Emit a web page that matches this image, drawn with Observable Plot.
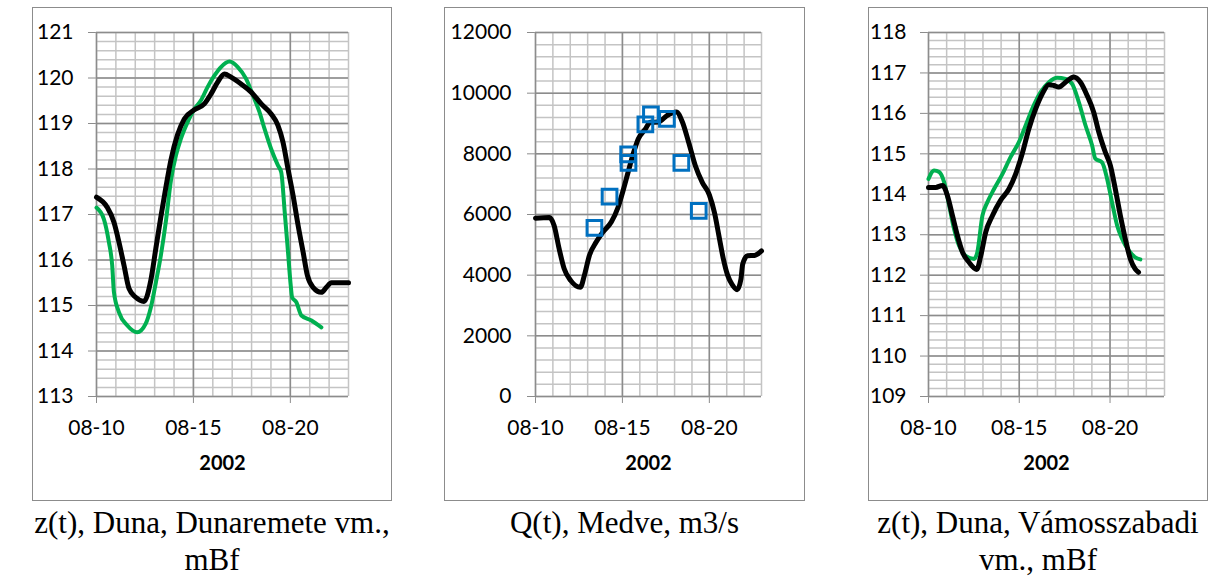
<!DOCTYPE html>
<html>
<head>
<meta charset="utf-8">
<script src="https://cdn.jsdelivr.net/npm/d3@7"></script>
<script src="https://cdn.jsdelivr.net/npm/@observablehq/plot@0.6"></script>
<style>
  html, body { margin: 0; padding: 0; background: #fff; }
  #page { position: relative; width: 1217px; height: 577px; overflow: hidden; }
  .frame { position: absolute; top: 7px; height: 494px; box-sizing: border-box; border: 1.5px solid #8c8c8c; pointer-events: none; }
  .chart { position: absolute; top: 7px; }
  .chart svg text { fill: #000; }
  .caption { position: absolute; top: 504px; text-align: center; white-space: nowrap;
             font-family: "Liberation Serif", "Times New Roman", serif; font-size: 31px; line-height: 37px; color: #000; }
</style>
</head>
<body>
<div id="page"></div>
<script>
// ---- Dunaremete water level, z(t) [mBf] ----
const dunaremeteSimDays = [10.0, 10.55, 10.9, 11.16, 11.42, 11.68, 12.02, 12.45, 12.8, 13.06, 13.32, 13.58, 13.84, 14.18, 14.53, 15.05, 15.56, 15.91, 16.25, 16.6, 16.94, 17.46, 17.98, 18.5, 19.01, 19.36, 19.62, 19.88, 20.14, 20.4, 20.66, 20.88, 21.17, 21.6, 21.86, 22.12, 23.0];
const dunaremeteSim = [117.38, 117.16, 116.83, 116.39, 115.88, 115.37, 115.18, 115.09, 115.55, 116.25, 116.95, 117.6, 118.2, 118.75, 119.1, 119.3, 119.43, 119.65, 119.91, 120.09, 120.02, 119.87, 119.69, 119.43, 119.21, 118.96, 118.59, 118.0, 117.42, 116.76, 116.17, 115.66, 115.4, 115.29, 115.4, 115.5, 115.5];
const dunaremeteObsDays = [10.0, 10.38, 10.64, 10.81, 10.9, 11.16, 11.59, 12.1, 12.54, 12.8, 13.06, 13.32, 13.58, 13.84, 14.1, 14.35, 14.7, 15.05, 15.39, 15.73, 16.08, 16.42, 16.86, 17.29, 17.72, 18.07, 18.41, 18.67, 19.01, 19.36, 19.53, 19.71, 19.88, 20.02, 20.09, 20.31, 20.57, 21.09, 21.6];
const dunaremeteObs = [117.15, 116.9, 116.39, 115.88, 115.29, 114.85, 114.56, 114.41, 114.6, 114.95, 115.5, 116.1, 116.85, 117.75, 118.3, 118.66, 119.03, 119.32, 119.51, 119.8, 120.05, 120.24, 120.36, 120.24, 119.98, 119.62, 119.25, 118.88, 118.44, 118.08, 117.93, 117.05, 116.17, 115.44, 115.18, 115.07, 114.78, 114.67, 114.52];

// ---- Medve discharge, Q(t) [m3/s] ----
const medveSimDays = [10.0, 10.8, 11.07, 11.36, 11.65, 12.03, 12.58, 12.81, 13.1, 13.49, 13.88, 14.36, 14.75, 15.04, 15.33, 15.62, 15.91, 16.3, 16.6, 17.07, 17.56, 18.1, 18.45, 18.8, 19.2, 19.6, 20.0, 20.3, 20.55, 20.8, 21.05, 21.3, 21.6, 21.82, 21.92, 22.2, 22.6, 23.0];
const medveSim = [5880, 5900, 5640, 4870, 4210, 3820, 3600, 3990, 4650, 5090, 5420, 5750, 6240, 6790, 7400, 8000, 8490, 8800, 9040, 9050, 9260, 9380, 9050, 8400, 7600, 7050, 6650, 6050, 5300, 4550, 4000, 3700, 3520, 3880, 4370, 4640, 4650, 4800];
const medveMeasDays = [13.39, 14.26, 15.33, 15.35, 16.32, 16.64, 17.56, 18.39, 19.39];
const medveMeas = [5560, 6590, 7980, 7700, 8970, 9300, 9150, 7700, 6120];

// ---- Vámosszabadi water level, z(t) [mBf] ----
const vamosSimDays = [10.0, 10.4, 10.77, 11.04, 11.32, 11.59, 11.87, 12.23, 12.66, 12.88, 13.15, 13.52, 13.97, 14.43, 14.8, 15.16, 15.53, 15.9, 16.26, 16.63, 16.9, 17.18, 17.55, 18.0, 18.37, 18.74, 19.1, 19.38, 19.74, 20.02, 20.29, 20.57, 20.84, 21.12, 21.39, 21.57];
const vamosSim = [114.17, 114.17, 114.22, 113.97, 113.47, 112.98, 112.57, 112.32, 112.14, 112.48, 113.06, 113.47, 113.85, 114.13, 114.5, 115.0, 115.62, 116.11, 116.48, 116.71, 116.69, 116.65, 116.77, 116.9, 116.77, 116.44, 116.03, 115.54, 115.04, 114.71, 114.13, 113.47, 112.9, 112.4, 112.15, 112.07];
const vamosObsDays = [10.0, 10.31, 10.59, 10.86, 11.14, 11.41, 11.68, 12.05, 12.51, 12.69, 12.97, 13.24, 13.61, 14.07, 14.52, 14.98, 15.35, 15.71, 16.17, 16.63, 17.09, 17.55, 17.91, 18.28, 18.65, 19.01, 19.19, 19.56, 19.84, 20.11, 20.39, 20.66, 21.03, 21.39, 21.67];
const vamosObs = [114.38, 114.59, 114.55, 114.3, 113.72, 113.14, 112.73, 112.48, 112.4, 112.57, 113.47, 113.8, 114.13, 114.5, 114.92, 115.29, 115.7, 116.11, 116.52, 116.77, 116.88, 116.85, 116.73, 116.28, 115.7, 115.21, 114.88, 114.79, 114.38, 113.8, 113.23, 112.9, 112.61, 112.44, 112.39];

// ---- axes ----
const xDomainDays = [10, 23];
const xLabelDays = [10, 15, 20];
const yearLabel = "2002";
const dunaremeteTicks = [113, 114, 115, 116, 117, 118, 119, 120, 121];
const medveTicks = [0, 2000, 4000, 6000, 8000, 10000, 12000];
const vamosTicks = [109, 110, 111, 112, 113, 114, 115, 116, 117, 118];

const captions = [
  ["z(t), Duna, Dunaremete vm.,", "mBf"],
  ["Q(t), Medve, m3/s"],
  ["z(t), Duna, Vámosszabadi", "vm., mBf"]
];

const GREEN = "#00b050", BLACK = "#000000", BLUE = "#0070c0";
const MINOR = "#c4c4c4", MAJOR = "#8c8c8c";

// day of August 2002 (fractional) -> UTC date
const aug = d => new Date(Date.UTC(2002, 7, 1) + (d - 1) * 864e5);
const toRows = (days, vals) => days.map((d, i) => ({t: aug(d), v: vals[i]}));

function panel({width, marginLeft, marginRight, ticks, minorPerMajor, tickPadding, series, points}) {
  const xDays = d3.range(xDomainDays[0], xDomainDays[1] + 1).map(aug);
  const xMajor = xLabelDays.map(aug);
  const step = (ticks[1] - ticks[0]) / minorPerMajor;
  const yMinor = d3.range((ticks.length - 1) * minorPerMajor + 1).map(i => ticks[0] + i * step);

  const marks = [
    Plot.ruleY(yMinor, {stroke: MINOR, strokeWidth: 1.5}),
    Plot.ruleX(xDays, {stroke: MINOR, strokeWidth: 1.5}),
    Plot.ruleY(ticks, {stroke: MAJOR, strokeWidth: 1.5}),
    Plot.ruleX(xMajor, {stroke: MAJOR, strokeWidth: 1.5})
  ];
  for (const s of series) {
    marks.push(Plot.line(s.rows, {x: "t", y: "v", stroke: s.color, strokeWidth: s.width,
      curve: "monotone-x", strokeLinejoin: "round", strokeLinecap: "round"}));
  }
  if (points) {
    marks.push(Plot.dot(points, {x: "t", y: "v", symbol: "square", r: 8.3,
      fill: "none", stroke: BLUE, strokeWidth: 3}));
  }
  marks.push(Plot.text([yearLabel], {text: d => d, frameAnchor: "bottom", dy: 67,
    lineAnchor: "middle", fontWeight: "bold", fontSize: 20}));

  return Plot.plot({
    width, height: 494,
    marginLeft, marginRight,
    marginTop: 25, marginBottom: 105,
    style: {fontFamily: "Lato, 'Open Sans', sans-serif", fontSize: "21px", color: MAJOR,
            background: "transparent", overflow: "visible"},
    x: {type: "utc", domain: xDomainDays.map(aug), ticks: xMajor, tickFormat: d3.utcFormat("%m-%d"),
        tickSize: 7, tickPadding: 17, label: null},
    y: {domain: [ticks[0], ticks[ticks.length - 1]], ticks, tickFormat: d => String(d),
        tickSize: 8, tickPadding, label: null},
    marks
  });
}

const panels = [
  {left: 32, width: 360, marginLeft: 64, marginRight: 44, ticks: dunaremeteTicks, minorPerMajor: 5, tickPadding: 15,
   series: [{rows: toRows(dunaremeteObsDays, dunaremeteObs), color: GREEN, width: 4},
            {rows: toRows(dunaremeteSimDays, dunaremeteSim), color: BLACK, width: 5}]},
  {left: 444, width: 361, marginLeft: 91, marginRight: 44, ticks: medveTicks, minorPerMajor: 5, tickPadding: 16,
   series: [{rows: toRows(medveSimDays, medveSim), color: BLACK, width: 5}],
   points: toRows(medveMeasDays, medveMeas)},
  {left: 868, width: 340, marginLeft: 60, marginRight: 44, ticks: vamosTicks, minorPerMajor: 5, tickPadding: 14,
   series: [{rows: toRows(vamosObsDays, vamosObs), color: GREEN, width: 4},
            {rows: toRows(vamosSimDays, vamosSim), color: BLACK, width: 5}]}
];

const page = document.getElementById("page");
panels.forEach((p, i) => {
  const holder = document.createElement("div");
  holder.className = "chart";
  holder.style.left = p.left + "px";
  holder.appendChild(panel(p));
  page.appendChild(holder);

  const frame = document.createElement("div");
  frame.className = "frame";
  frame.style.left = p.left + "px";
  frame.style.width = p.width + "px";
  page.appendChild(frame);

  const cap = document.createElement("div");
  cap.className = "caption";
  cap.style.left = p.left + "px";
  cap.style.width = p.width + "px";
  cap.innerHTML = captions[i].join("<br>");
  page.appendChild(cap);
});
</script>
</body>
</html>
